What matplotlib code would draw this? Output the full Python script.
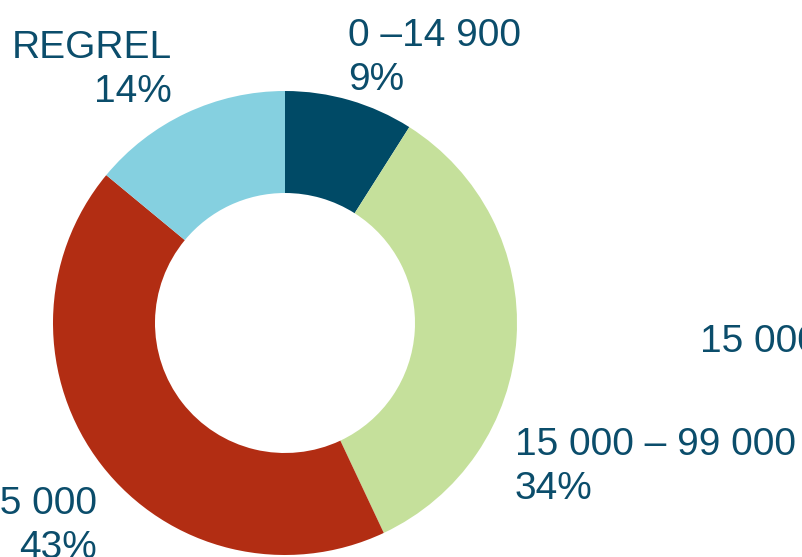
import matplotlib.pyplot as plt

plt.rcParams['font.family'] = ['Liberation Sans', 'DejaVu Sans']

labels = ["0 –14 900", "15 000 – 99 000", "Över 15 000", "REGREL"]
shares = [9, 34, 43, 14]
colors = ["#004a66", "#c5e09b", "#b22d13", "#85d0e0"]
text_color = "#0b4d6b"

W, H = 803, 557
fig = plt.figure(figsize=(W / 100, H / 100), dpi=100)
ax = fig.add_axes([0, 0, 1, 1])

cx, cy = 285, H - 323
r_out, r_in = 232, 130
ax.pie(shares, colors=colors, startangle=90, counterclock=False,
       center=(cx, cy), radius=r_out, frame=True,
       wedgeprops=dict(width=r_out - r_in, linewidth=0))
ax.set_xlim(0, W)
ax.set_ylim(0, H)
ax.set_aspect('equal')
ax.axis('off')

# label anchors: (x, baseline of last line, alignment) in pixels from top-left
spots = [(348, 90, 'left'), (515, 499, 'left'), (97, 558, 'right'), (172, 102, 'right')]
for lab, val, (x, y, ha) in zip(labels, shares, spots):
    ax.text(x, H - y, f"{lab}\n{val}%", ha=ha, va='baseline', ma=ha,
            fontsize=28, color=text_color, linespacing=1.3)

# stray label from a neighbouring chart, cut off at the right edge
ax.text(700, H - 352, "15 000 – 99 000", ha='left', va='baseline',
        fontsize=28, color=text_color)

fig.savefig("out.png", dpi=100)
